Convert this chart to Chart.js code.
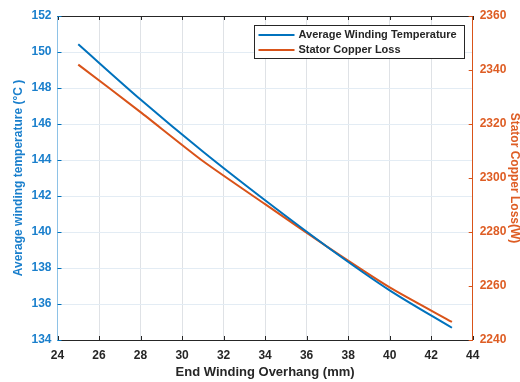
<!DOCTYPE html>
<html>
<head>
<meta charset="utf-8">
<script src="https://cdn.jsdelivr.net/npm/chart.js@4/dist/chart.umd.min.js"></script>
<style>
html, body { margin: 0; padding: 0; background: #fff; }
</style>
</head>
<body>
<canvas id="chart" width="520" height="382"></canvas>
<script>
// data
const overhang = [25, 28, 31, 34, 37, 40, 43];
const windingTemp = [150.43, 147.36, 144.47, 141.76, 139.17, 136.76, 134.68];
const copperLoss = [2342.0, 2324.4, 2306.3, 2290.3, 2274.5, 2259.5, 2246.7];
const seriesLabels = ["Average Winding Temperature", "Stator Copper Loss"];

const BLUE = "#0072BD";
const ORANGE = "#D95319";
const BLUE_TEXT = "#1a7fcc";
const ORANGE_TEXT = "#de5d24";
const DARK = "#262626";
const FONT = "'Liberation Sans', Arial, sans-serif";

// MATLAB-ish box: top border, inward ticks, legend inside the axes
const matlabBox = {
    id: "matlabBox",
    afterDatasetsDraw(chart) {
        const { ctx, chartArea: a, scales } = chart;
        ctx.save();
        ctx.lineWidth = 1;

        // top border
        ctx.strokeStyle = DARK;
        ctx.beginPath();
        ctx.moveTo(a.left, a.top + 0.5);
        ctx.lineTo(a.right, a.top + 0.5);
        ctx.stroke();

        const len = 4;
        // x ticks (bottom + top)
        scales.x.ticks.forEach((t) => {
            const px = Math.round(scales.x.getPixelForValue(t.value)) + 0.5;
            ctx.beginPath();
            ctx.moveTo(px, a.bottom);
            ctx.lineTo(px, a.bottom - len);
            ctx.moveTo(px, a.top);
            ctx.lineTo(px, a.top + len);
            ctx.stroke();
        });
        // left ticks
        ctx.strokeStyle = BLUE;
        scales.y.ticks.forEach((t) => {
            const py = Math.round(scales.y.getPixelForValue(t.value)) + 0.5;
            ctx.beginPath();
            ctx.moveTo(a.left, py);
            ctx.lineTo(a.left + len, py);
            ctx.stroke();
        });
        // right ticks
        ctx.strokeStyle = ORANGE;
        scales.y1.ticks.forEach((t) => {
            const py = Math.round(scales.y1.getPixelForValue(t.value)) + 0.5;
            ctx.beginPath();
            ctx.moveTo(a.right, py);
            ctx.lineTo(a.right - len, py);
            ctx.stroke();
        });

        // legend box
        const bx = 254.5, by = 25.5, bw = 210, bh = 33;
        ctx.fillStyle = "#fff";
        ctx.fillRect(bx, by, bw, bh);
        ctx.strokeStyle = DARK;
        ctx.strokeRect(bx, by, bw, bh);
        ctx.font = "bold 11px " + FONT;
        ctx.textBaseline = "middle";
        chart.data.datasets.forEach((ds, i) => {
            const y = by + 9.5 + i * 15;
            ctx.strokeStyle = ds.borderColor;
            ctx.lineWidth = 2;
            ctx.beginPath();
            ctx.moveTo(bx + 4, y);
            ctx.lineTo(bx + 40, y);
            ctx.stroke();
            ctx.fillStyle = DARK;
            ctx.fillText(ds.label, bx + 44, y);
        });
        ctx.restore();
    },
};

new Chart(document.getElementById("chart"), {
    type: "line",
    data: {
        datasets: [
            {
                label: seriesLabels[0],
                data: overhang.map((x, i) => ({ x: x, y: windingTemp[i] })),
                borderColor: BLUE,
                borderWidth: 2,
                pointRadius: 0,
                tension: 0.3,
                yAxisID: "y",
            },
            {
                label: seriesLabels[1],
                data: overhang.map((x, i) => ({ x: x, y: copperLoss[i] })),
                borderColor: ORANGE,
                borderWidth: 2,
                pointRadius: 0,
                tension: 0.2,
                yAxisID: "y1",
            },
        ],
    },
    options: {
        responsive: false,
        animation: false,
        layout: {
            padding: { top: 16, left: 0, right: 0, bottom: 0 },
        },
        plugins: {
            legend: { display: false },
            tooltip: { enabled: false },
        },
        scales: {
            x: {
                type: "linear",
                min: 24,
                max: 44,
                afterFit: (scale) => {
                    scale.height = 42;
                },
                ticks: {
                    stepSize: 2,
                    padding: 8,
                    color: DARK,
                    font: { family: FONT, size: 12, weight: "bold" },
                },
                grid: {
                    color: "#dfe2e6",
                    drawTicks: false,
                },
                border: { color: DARK },
                title: {
                    display: true,
                    text: "End Winding Overhang (mm)",
                    color: DARK,
                    padding: { top: 0, bottom: 2 },
                    font: { family: FONT, size: 13, weight: "bold" },
                },
            },
            y: {
                position: "left",
                min: 134,
                max: 152,
                afterFit: (scale) => {
                    scale.width = 57.5;
                },
                ticks: {
                    stepSize: 2,
                    padding: 6,
                    color: BLUE_TEXT,
                    font: { family: FONT, size: 12, weight: "bold" },
                },
                grid: {
                    color: "#e3ecf4",
                    drawTicks: false,
                },
                border: { color: "#8ec2e6" },
                title: {
                    display: true,
                    text: "Average winding temperature (°C )",
                    color: BLUE_TEXT,
                    padding: { top: 11, bottom: 0 },
                    font: { family: FONT, size: 12, weight: "bold" },
                },
            },
            y1: {
                position: "right",
                min: 2240,
                max: 2360,
                afterFit: (scale) => {
                    scale.width = 47.3;
                },
                ticks: {
                    stepSize: 20,
                    padding: 7,
                    color: ORANGE_TEXT,
                    font: { family: FONT, size: 12, weight: "bold" },
                    callback: (value) => String(value),
                },
                grid: {
                    display: false,
                    drawTicks: false,
                },
                border: { color: ORANGE },
                title: {
                    display: true,
                    text: "Stator Copper Loss(W)",
                    color: ORANGE_TEXT,
                    padding: { top: 0, bottom: 0 },
                    font: { family: FONT, size: 12, weight: "bold", lineHeight: 1 },
                },
            },
        },
    },
    plugins: [matlabBox],
});
</script>
</body>
</html>
